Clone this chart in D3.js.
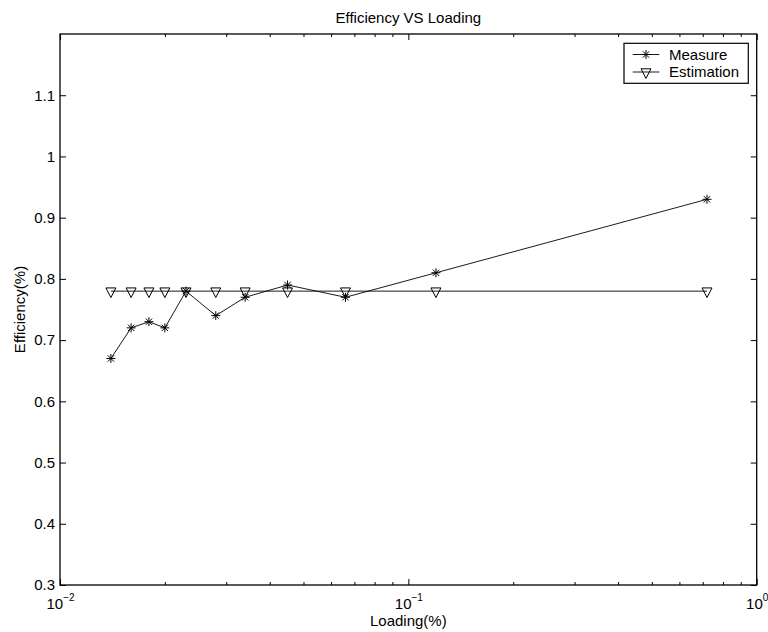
<!DOCTYPE html>
<html>
<head>
<meta charset="utf-8">
<script src="https://cdn.jsdelivr.net/npm/d3@7"></script>
<style>
  body { margin: 0; background: #fff; }
  svg { display: block; font-family: "Liberation Sans", Arial, sans-serif; }
</style>
</head>
<body>
<svg id="chart" width="768" height="632"></svg>
<script>
// data
var loading = [0.014, 0.016, 0.018, 0.020, 0.023, 0.028, 0.034, 0.045, 0.066, 0.12, 0.72];
var measure = [0.67, 0.72, 0.73, 0.72, 0.78, 0.74, 0.77, 0.79, 0.77, 0.81, 0.93];
var estimation = [0.78, 0.78, 0.78, 0.78, 0.78, 0.78, 0.78, 0.78, 0.78, 0.78, 0.78];
var yTicks = [0.3, 0.4, 0.5, 0.6, 0.7, 0.8, 0.9, 1.0, 1.1];
var xMajor = [0.01, 0.1, 1];
var xExp = ["\u22122", "\u22121", "0"];
var seriesNames = ["Measure", "Estimation"];

// plot box (window.top is read-only, so no bare "top")
var boxL = 60, boxR = 756.7, boxT = 34, boxB = 585;

var svg = d3.select("#chart");

var x = d3.scaleLog().domain([0.01, 1]).range([boxL, boxR]);
var y = d3.scaleLinear().domain([0.3, 1.2]).range([boxB, boxT]);

// minor ticks 2..9 per decade
var xMinor = [];
[0.01, 0.1].forEach(function (d) {
    for (var k = 2; k <= 9; k++) xMinor.push(d * k);
});

function styleAxis(g) {
    g.select(".domain").remove();
    g.selectAll("line").attr("stroke", "#000").attr("stroke-width", 1);
    g.selectAll("text").attr("fill", "#000").style("font-size", "15px");
}

// bottom axis
var gxMinor = svg.append("g").attr("transform", "translate(0," + boxB + ")")
    .call(d3.axisBottom(x).tickValues(xMinor).tickSize(-3).tickFormat(""));
styleAxis(gxMinor);

var gx = svg.append("g").attr("transform", "translate(0," + boxB + ")")
    .call(d3.axisBottom(x).tickValues(xMajor).tickSize(-6).tickFormat(""));
styleAxis(gx);
gx.selectAll(".tick text")
    .attr("y", 24).attr("dy", 0)
    .each(function (d, i) {
        var t = d3.select(this);
        t.append("tspan").text("10");
        t.append("tspan").attr("dy", -8).style("font-size", "10px").text(xExp[i]);
    });

// top axis (ticks only)
var gxtMinor = svg.append("g").attr("transform", "translate(0," + boxT + ")")
    .call(d3.axisTop(x).tickValues(xMinor).tickSize(-3).tickFormat(""));
styleAxis(gxtMinor);
var gxt = svg.append("g").attr("transform", "translate(0," + boxT + ")")
    .call(d3.axisTop(x).tickValues(xMajor).tickSize(-6).tickFormat(""));
styleAxis(gxt);

// left axis
var gy = svg.append("g").attr("transform", "translate(" + boxL + ",0)")
    .call(d3.axisLeft(y).tickValues(yTicks).tickSize(-6).tickPadding(5)
        .tickFormat(function (d) { return d3.format("~g")(d); }));
styleAxis(gy);

// right axis (ticks only)
var gyr = svg.append("g").attr("transform", "translate(" + boxR + ",0)")
    .call(d3.axisRight(y).tickValues(yTicks).tickSize(-6).tickFormat(""));
styleAxis(gyr);

// box
svg.append("rect")
    .attr("x", boxL).attr("y", boxT)
    .attr("width", boxR - boxL).attr("height", boxB - boxT)
    .attr("fill", "none").attr("stroke", "#000").attr("stroke-width", 1.3);

// markers
function asterisk(g, r) {
    var d = r * Math.SQRT1_2;
    g.append("path")
        .attr("d", "M" + (-r) + ",0H" + r + "M0," + (-r) + "V" + r +
            "M" + (-d) + "," + (-d) + "L" + d + "," + d +
            "M" + (-d) + "," + d + "L" + d + "," + (-d))
        .attr("stroke", "#000").attr("stroke-width", 1).attr("fill", "none");
}
function triangle(g) {
    g.append("path")
        .attr("d", "M-5,-3.2L5,-3.2L0,6.4Z")
        .attr("stroke", "#000").attr("stroke-width", 1).attr("fill", "none");
}

var line = d3.line()
    .x(function (d) { return x(d[0]); })
    .y(function (d) { return y(d[1]); });

var measurePts = d3.zip(loading, measure);
var estPts = d3.zip(loading, estimation);

svg.append("path").datum(estPts)
    .attr("d", line).attr("fill", "none").attr("stroke", "#000").attr("stroke-width", 0.9);
svg.append("path").datum(measurePts)
    .attr("d", line).attr("fill", "none").attr("stroke", "#000").attr("stroke-width", 0.9);

svg.append("g").selectAll("g").data(estPts).join("g")
    .attr("transform", function (d) { return "translate(" + x(d[0]) + "," + y(d[1]) + ")"; })
    .each(function () { triangle(d3.select(this)); });

svg.append("g").selectAll("g").data(measurePts).join("g")
    .attr("transform", function (d) { return "translate(" + x(d[0]) + "," + y(d[1]) + ")"; })
    .each(function () { asterisk(d3.select(this), 4.5); });

// title and axis labels
svg.append("text").attr("x", (boxL + boxR) / 2).attr("y", 23)
    .attr("text-anchor", "middle").style("font-size", "15px").text("Efficiency VS Loading");
svg.append("text").attr("x", (boxL + boxR) / 2).attr("y", 626)
    .attr("text-anchor", "middle").style("font-size", "15px").text("Loading(%)");
svg.append("text")
    .attr("transform", "translate(25," + (boxT + boxB) / 2 + ") rotate(-90)")
    .attr("text-anchor", "middle").style("font-size", "15px").text("Efficiency(%)");

// legend
var lg = svg.append("g");
lg.append("rect").attr("x", 624).attr("y", 43.3).attr("width", 124.3).attr("height", 40)
    .attr("fill", "#fff").attr("stroke", "#000").attr("stroke-width", 1.2);
var rows = [54.5, 72];
seriesNames.forEach(function (name, i) {
    var cy = rows[i];
    lg.append("line").attr("x1", 632.7).attr("x2", 659.3).attr("y1", cy).attr("y2", cy)
        .attr("stroke", "#000").attr("stroke-width", 0.9);
    var m = lg.append("g").attr("transform", "translate(646," + cy + ")");
    if (i === 0) asterisk(m, 4.5); else triangle(m);
    lg.append("text").attr("x", 669).attr("y", cy + 5)
        .style("font-size", "15px").text(name);
});
</script>
</body>
</html>
